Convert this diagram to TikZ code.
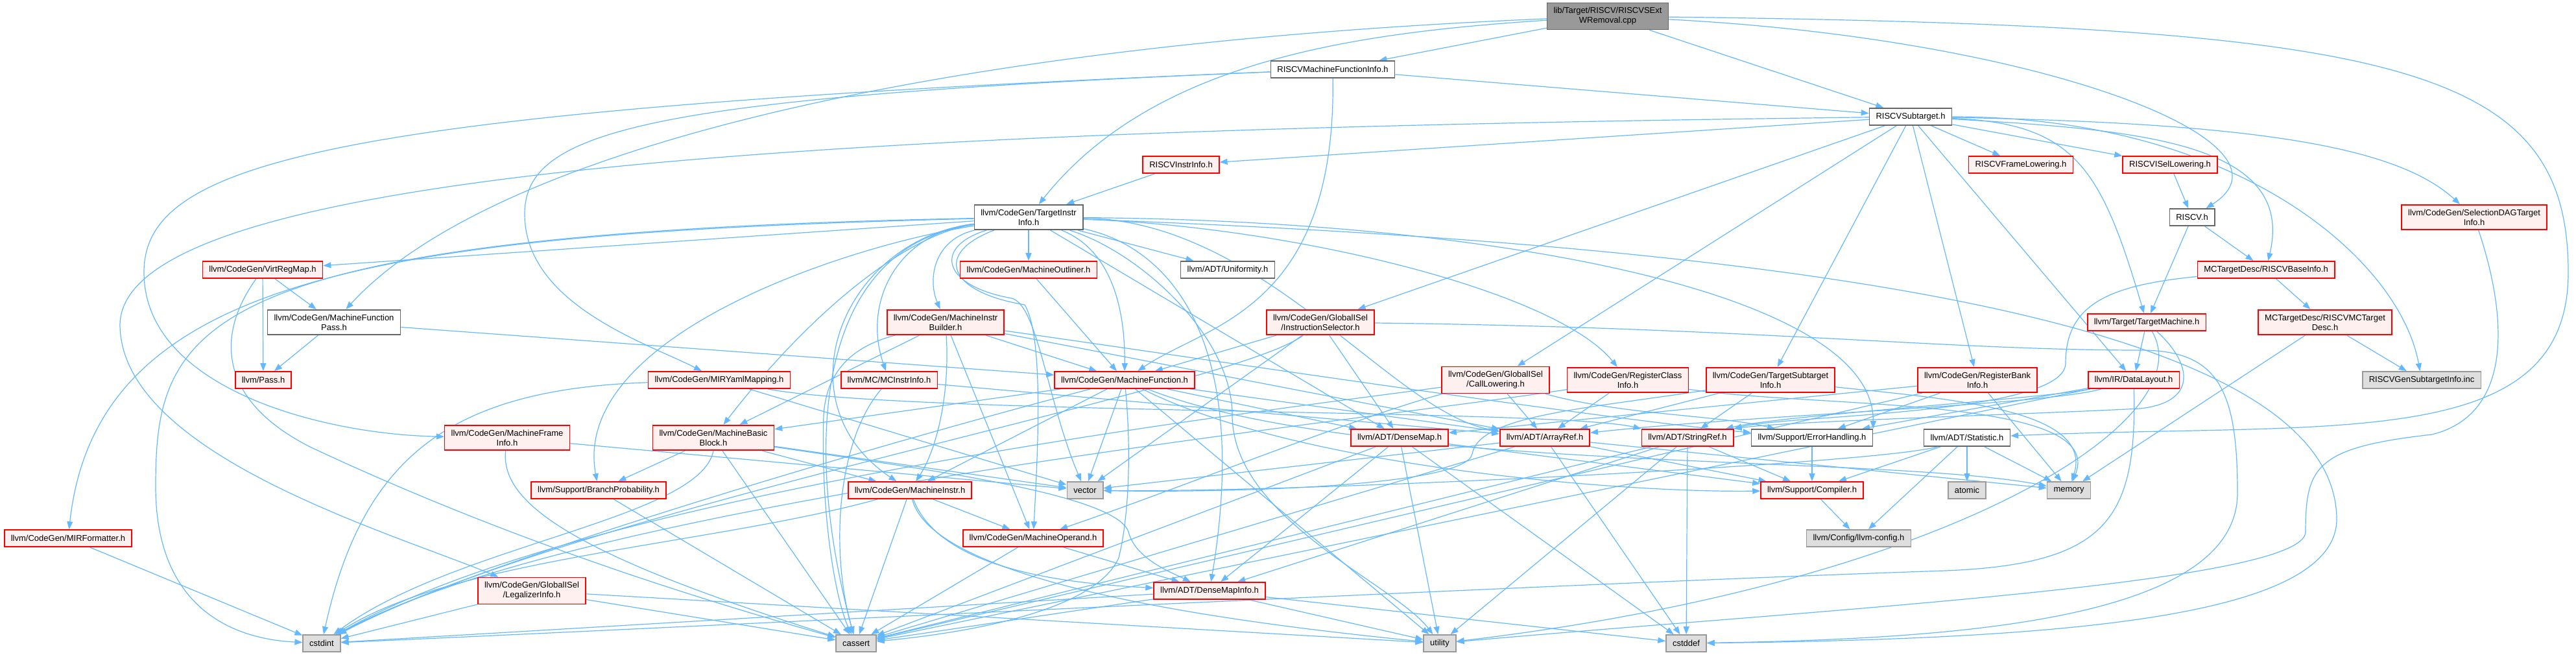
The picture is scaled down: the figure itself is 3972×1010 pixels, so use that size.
\documentclass[tikz,border=0pt]{standalone}
\usepackage{fontspec}
\setmainfont{Liberation Sans}
\usetikzlibrary{arrows.meta,backgrounds}

\definecolor{edgeblue}{HTML}{63B8FF}
\definecolor{truncfill}{HTML}{FFF0F0}
\definecolor{truncline}{HTML}{FF0000}
\definecolor{grey40}{HTML}{666666}
\definecolor{grey60}{HTML}{999999}
\definecolor{grey87}{HTML}{DEDEDE}

\tikzset{
  hdr/.style={rectangle, align=center, inner xsep=5pt, inner ysep=3.5pt, minimum height=13pt,
    line width=0.8pt, font=\fontsize{6.5}{7.5}\selectfont},
  trunc/.style={draw=truncline, fill=truncfill},
  plain/.style={draw=grey40, fill=white},
  sys/.style={draw=grey60, fill=grey87},
  root/.style={draw=grey40, fill=grey60},
  edge/.style={draw=edgeblue, line width=0.6pt, -{Triangle[length=6pt,width=4.5pt]}}
}

\begin{document}
\begin{tikzpicture}[x=0.5pt,y=-0.5pt]
\useasboundingbox (0,0) rectangle (3972,1010);

\node[hdr,root] (main) at (2479,25) {lib/Target/RISCV/RISCVSExt\\WRemoval.cpp};
\node[hdr,plain] (rmfi) at (2055,107) {RISCVMachineFunctionInfo.h};
\node[hdr,plain] (sub) at (2946,180) {RISCVSubtarget.h};
\node[hdr,trunc] (rii) at (1821,254) {RISCVInstrInfo.h};
\node[hdr,trunc] (rfl) at (3116,254) {RISCVFrameLowering.h};
\node[hdr,trunc] (risel) at (3346,254) {RISCVISelLowering.h};
\node[hdr,plain] (riscv) at (3380,335) {RISCV.h};
\node[hdr,trunc] (sdag) at (3815,335) {llvm/CodeGen/SelectionDAGTarget\\Info.h};
\node[hdr,plain] (tii) at (1586,335) {llvm/CodeGen/TargetInstr\\Info.h};
\node[hdr,trunc] (vrm) at (405,416) {llvm/CodeGen/VirtRegMap.h};
\node[hdr,trunc] (mout) at (1586,416) {llvm/CodeGen/MachineOutliner.h};
\node[hdr,plain] (unif) at (1893,416) {llvm/ADT/Uniformity.h};
\node[hdr,trunc] (base) at (3494,416) {MCTargetDesc/RISCVBaseInfo.h};
\node[hdr,plain] (mfp) at (515,497) {llvm/CodeGen/MachineFunction\\Pass.h};
\node[hdr,trunc] (mib) at (1458,497) {llvm/CodeGen/MachineInstr\\Builder.h};
\node[hdr,trunc] (isel) at (2036,497) {llvm/CodeGen/GlobalISel\\/InstructionSelector.h};
\node[hdr,trunc] (tm) at (3310,497) {llvm/Target/TargetMachine.h};
\node[hdr,trunc] (mcdesc) at (3585,497) {MCTargetDesc/RISCVMCTarget\\Desc.h};
\node[hdr,trunc] (pass) at (406,586) {llvm/Pass.h};
\node[hdr,trunc] (myaml) at (1109,586) {llvm/CodeGen/MIRYamlMapping.h};
\node[hdr,trunc] (mcii) at (1371,586) {llvm/MC/MCInstrInfo.h};
\node[hdr,trunc] (mf) at (1734,586) {llvm/CodeGen/MachineFunction.h};
\node[hdr,trunc] (calllow) at (2306,586) {llvm/CodeGen/GlobalISel\\/CallLowering.h};
\node[hdr,trunc] (rci) at (2510,586) {llvm/CodeGen/RegisterClass\\Info.h};
\node[hdr,trunc] (tsi) at (2730,586) {llvm/CodeGen/TargetSubtarget\\Info.h};
\node[hdr,trunc] (rbi) at (3049,586) {llvm/CodeGen/RegisterBank\\Info.h};
\node[hdr,trunc] (dl) at (3290,586) {llvm/IR/DataLayout.h};
\node[hdr,sys] (gensub) at (3734,586) {RISCVGenSubtargetInfo.inc};
\node[hdr,trunc] (mfi) at (782,675) {llvm/CodeGen/MachineFrame\\Info.h};
\node[hdr,trunc] (mbb) at (1100,675) {llvm/CodeGen/MachineBasic\\Block.h};
\node[hdr,trunc] (dmap) at (2158,675) {llvm/ADT/DenseMap.h};
\node[hdr,trunc] (aref) at (2382,675) {llvm/ADT/ArrayRef.h};
\node[hdr,trunc] (sref) at (2602,675) {llvm/ADT/StringRef.h};
\node[hdr,plain] (eh) at (2794,675) {llvm/Support/ErrorHandling.h};
\node[hdr,plain] (stat) at (3033,675) {llvm/ADT/Statistic.h};
\node[hdr,trunc] (bp) at (923,756) {llvm/Support/BranchProbability.h};
\node[hdr,trunc] (mi) at (1403,756) {llvm/CodeGen/MachineInstr.h};
\node[hdr,sys] (vec) at (1673,756) {vector};
\node[hdr,trunc] (comp) at (2794,756) {llvm/Support/Compiler.h};
\node[hdr,sys] (atomic) at (3033,756) {atomic};
\node[hdr,sys] (memory) at (3190,756) {memory};
\node[hdr,trunc] (mirf) at (105,830) {llvm/CodeGen/MIRFormatter.h};
\node[hdr,trunc] (mop) at (1593,830) {llvm/CodeGen/MachineOperand.h};
\node[hdr,sys] (cfg) at (2866,830) {llvm/Config/llvm-config.h};
\node[hdr,trunc] (legal) at (820,911) {llvm/CodeGen/GlobalISel\\/LegalizerInfo.h};
\node[hdr,trunc] (dmi) at (1865,911) {llvm/ADT/DenseMapInfo.h};
\node[hdr,sys] (cstdint) at (496,992) {cstdint};
\node[hdr,sys] (cassert) at (1320,992) {cassert};
\node[hdr,sys] (utility) at (2220,992) {utility};
\node[hdr,sys] (cstddef) at (2600,992) {cstddef};

\begin{scope}[on background layer]
% the .cpp file
\draw[edge] (main) -- (rmfi);
\draw[edge] (main) -- (sub);
\draw[edge] (main) .. controls (3150,60) and (3560,220) .. (riscv);
\draw[edge] (main) .. controls (3700,40) and (3960,100) .. (3960,420) .. controls (3960,700) and (3600,650) .. (stat);
\draw[edge] (main) .. controls (1400,70) and (750,240) .. (mfp);
\draw[edge] (main) .. controls (2100,50) and (1780,90) .. (tii);
% RISCV headers
\draw[edge] (rmfi) -- (sub);
\draw[edge] (rmfi) .. controls (2060,480) and (1860,500) .. (mf);
\draw[edge] (rmfi) .. controls (1000,150) and (809,200) .. (809,330) .. controls (809,470) and (1000,530) .. (myaml);
\draw[edge] (rmfi) .. controls (500,170) and (222,250) .. (222,420) .. controls (222,600) and (500,670) .. (mfi);
\draw[edge] (sub) -- (rii);
\draw[edge] (sub) -- (rfl);
\draw[edge] (sub) -- (risel);
\draw[edge] (sub) -- (dl);
\draw[edge] (sub) -- (calllow);
\draw[edge] (sub) -- (isel);
\draw[edge] (sub) -- (tsi);
\draw[edge] (sub) -- (rbi);
\draw[edge] (sub) .. controls (3200,190) and (3240,260) .. (tm);
\draw[edge] (sub) .. controls (3300,200) and (3540,220) .. (base);
\draw[edge] (sub) .. controls (3500,190) and (3700,230) .. (sdag);
\draw[edge] (sub) .. controls (3450,180) and (3700,400) .. (gensub);
\draw[edge] (sub) .. controls (1300,200) and (190,260) .. (185,500) .. controls (185,700) and (600,820) .. (legal);
\draw[edge] (rii) -- (tii);
\draw[edge] (risel) -- (riscv);
\draw[edge] (riscv) -- (base);
\draw[edge] (riscv) -- (tm);
\draw[edge] (base) -- (mcdesc);
\draw[edge] (base) .. controls (3250,440) and (3185,470) .. (3185,560) .. controls (3185,640) and (2750,640) .. (sref.north east);
\draw[edge] (mcdesc) -- (memory);
\draw[edge] (mcdesc) -- (gensub);
\draw[edge] (tm) -- (dl);
\draw[edge] (tm) .. controls (3380,560) and (3390,620) .. (3300,630) .. controls (3100,640) and (2750,650) .. (sref.north east);
\draw[edge] (tm) .. controls (3400,650) and (3000,900) .. (utility);
\draw[edge] (sdag) .. controls (3870,500) and (3870,640) .. (3750,670) .. controls (3570,690) and (3555,720) .. (3555,820) .. controls (3555,900) and (2800,940) .. (utility);
% TargetInstrInfo.h
\draw[edge] (tii) -- (vrm);
\draw[edge] (tii) -- (mout);
\draw[edge] (tii) -- (unif);
\draw[edge] (tii) -- (dmap);
\draw[edge] (tii) .. controls (1440,370) and (1430,430) .. (mib);
\draw[edge] (tii) .. controls (1700,380) and (1735,450) .. (mf);
\draw[edge] (tii) .. controls (1380,360) and (1330,470) .. (mcii);
\draw[edge] (tii) .. controls (2000,350) and (2400,450) .. (rci);
\draw[edge] (tii) .. controls (1400,360) and (1250,480) .. (mbb);
\draw[edge] (tii) .. controls (1300,370) and (1200,620) .. (mi);
\draw[edge] (tii) .. controls (1440,390) and (1460,450) .. (1580,470) .. controls (1610,520) and (1600,700) .. (mop);
\draw[edge] (tii) .. controls (1950,340) and (2150,640) .. (aref);
\draw[edge] (tii) .. controls (1800,380) and (1930,520) .. (dmi);
\draw[edge] (tii) .. controls (1300,380) and (880,520) .. (bp);
\draw[edge] (tii) .. controls (2300,340) and (2890,450) .. (eh.north east);
\draw[edge] (tii) .. controls (1440,380) and (1450,440) .. (1560,460) .. controls (1600,470) and (1615,620) .. (vec);
\draw[edge] (tii) .. controls (1250,380) and (1240,700) .. (cassert);
\draw[edge] (tii) .. controls (1760,390) and (1900,520) .. (1900,640) .. controls (1900,800) and (2150,900) .. (utility);
\draw[edge] (tii) .. controls (600,360) and (150,420) .. (mirf);
\draw[edge] (tii) .. controls (300,360) and (240,500) .. (240,750) .. controls (240,930) and (350,985) .. (cstdint);
\draw[edge] (tii) .. controls (2800,380) and (3600,500) .. (3603,800) .. controls (3603,950) and (3200,985) .. (cstddef);
% CodeGen headers
\draw[edge] (vrm) -- (mfp);
\draw[edge] (vrm) -- (pass);
\draw[edge] (vrm) .. controls (330,520) and (340,620) .. (480,690) .. controls (800,840) and (1100,930) .. (cassert);
\draw[edge] (mfp) -- (pass);
\draw[edge] (mfp) -- (mf);
\draw[edge] (mout) -- (mf);
\draw[edge] (mib) -- (aref);
\draw[edge] (mib) -- (mbb);
\draw[edge] (mib) -- (mf);
\draw[edge] (mib) -- (mop);
\draw[edge] (mib) .. controls (1465,620) and (1440,700) .. (mi);
\draw[edge] (mib) .. controls (1900,560) and (2500,650) .. (eh);
\draw[edge] (mib) .. controls (1330,530) and (1275,560) .. (1270,640) .. controls (1265,800) and (1290,930) .. (cassert);
\draw[edge] (isel) -- (dmap);
\draw[edge] (isel) -- (mf);
\draw[edge] (isel) -- (vec);
\draw[edge] (isel) .. controls (1900,600) and (900,780) .. (cstdint);
\draw[edge] (isel) .. controls (2700,505) and (3000,540) .. (3300,540) .. controls (3420,540) and (3450,600) .. (3450,760) .. controls (3450,960) and (3000,985) .. (cstddef);
\draw[edge] (myaml) -- (vec);
\draw[edge] (myaml) .. controls (1400,640) and (2400,630) .. (sref.north west);
\draw[edge] (myaml) .. controls (700,600) and (560,700) .. (cstdint);
\draw[edge] (mcii) -- (aref);
\draw[edge] (mcii) .. controls (1290,680) and (1280,850) .. (cassert);
\draw[edge] (mf) -- (aref);
\draw[edge] (mf) -- (dmap);
\draw[edge] (mf) -- (mbb);
\draw[edge] (mf) -- (mi);
\draw[edge] (mf) -- (vec);
\draw[edge] (mf) -- (utility);
\draw[edge] (mf) .. controls (2000,720) and (2500,760) .. (comp);
\draw[edge] (mf) .. controls (2100,730) and (2900,700) .. (memory);
\draw[edge] (mf) .. controls (1745,700) and (1740,800) .. (1725,860) .. controls (1690,940) and (1500,975) .. (cassert);
\draw[edge] (mf) .. controls (1300,700) and (700,880) .. (cstdint);
\draw[edge] (calllow) -- (aref);
\draw[edge] (calllow) .. controls (2100,640) and (1800,760) .. (mop);
\draw[edge] (calllow) .. controls (2500,640) and (2650,640) .. (eh);
\draw[edge] (calllow) .. controls (1900,640) and (900,760) .. (cstdint);
\draw[edge] (rci) -- (aref);
\draw[edge] (rci) .. controls (2800,630) and (3250,610) .. (memory);
\draw[edge] (rci) .. controls (2100,650) and (900,770) .. (cstdint);
\draw[edge] (tsi) -- (aref);
\draw[edge] (tsi) -- (sref);
\draw[edge] (tsi) .. controls (3000,615) and (3230,630) .. (memory);
\draw[edge] (tsi) .. controls (2450,630) and (2280,640) .. (2270,700) .. controls (2260,750) and (1900,760) .. (vec);
\draw[edge] (rbi) -- (dmap);
\draw[edge] (rbi) -- (eh);
\draw[edge] (rbi) -- (memory);
\draw[edge] (rbi) -- (cassert);
\draw[edge] (dl) -- (eh);
\draw[edge] (dl) -- (cassert);
\draw[edge] (dl) .. controls (3150,625) and (2700,640) .. (aref);
\draw[edge] (dl) .. controls (3150,615) and (2750,640) .. (sref);
\draw[edge] (dl) .. controls (3295,800) and (3250,870) .. (3000,880) .. controls (2400,900) and (1000,970) .. (cstdint);
\draw[edge] (mfi) -- (vec);
\draw[edge] (mfi) .. controls (770,780) and (900,860) .. (cassert);
\draw[edge] (mbb) -- (mi);
\draw[edge] (mbb) -- (bp);
\draw[edge] (mbb) -- (vec);
\draw[edge] (mbb) -- (cassert);
\draw[edge] (mbb) .. controls (1400,720) and (1720,760) .. (1740,820) .. controls (1750,860) and (1800,880) .. (dmi);
\draw[edge] (mbb.south) .. controls (1080,800) and (700,840) .. (cstdint);
\draw[edge] (mi) -- (mop);
\draw[edge] (mi) -- (cassert);
\draw[edge] (mi) .. controls (1450,880) and (1650,900) .. (dmi);
\draw[edge] (mi) .. controls (1440,900) and (1900,960) .. (utility);
\draw[edge] (mi) .. controls (1100,840) and (700,860) .. (cstdint);
\draw[edge] (mop) -- (dmi);
\draw[edge] (mop) -- (cassert);
\draw[edge] (mirf) -- (cstdint);
\draw[edge] (legal) -- (cstdint);
\draw[edge] (legal) -- (cassert);
\draw[edge] (legal) -- (utility);
\draw[edge] (bp) -- (cassert);
% ADT and Support
\draw[edge] (dmap) -- (dmi);
\draw[edge] (dmap) -- (comp);
\draw[edge] (dmap) -- (cassert);
\draw[edge] (dmap) -- (cstddef);
\draw[edge] (dmap) -- (utility);
\draw[edge] (aref) -- (comp);
\draw[edge] (aref) -- (memory);
\draw[edge] (aref) -- (vec);
\draw[edge] (aref) -- (cassert);
\draw[edge] (aref) -- (cstddef);
\draw[edge] (sref) -- (dmi);
\draw[edge] (sref) -- (comp);
\draw[edge] (sref) -- (cassert);
\draw[edge] (sref) -- (cstddef);
\draw[edge] (sref) -- (utility);
\draw[edge] (eh) -- (comp);
\draw[edge] (stat) -- (comp);
\draw[edge] (stat) -- (cfg);
\draw[edge] (stat) -- (atomic);
\draw[edge] (stat) -- (memory);
\draw[edge] (stat) .. controls (2900,715) and (2000,760) .. (vec);
\draw[edge] (comp) -- (cfg);
\draw[edge] (dmi) -- (cassert);
\draw[edge] (dmi) -- (cstdint);
\draw[edge] (dmi) -- (cstddef);
\draw[edge] (dmi) -- (utility);
\end{scope}
\end{tikzpicture}
\end{document}
